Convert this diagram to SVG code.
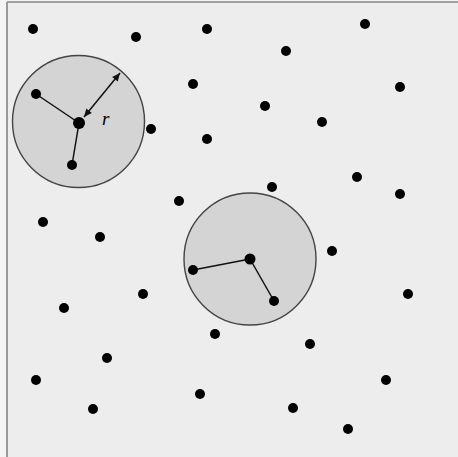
<svg xmlns="http://www.w3.org/2000/svg" width="458" height="457" viewBox="0 0 458 457">
<style>
.dot{fill:#000}
.disk{fill:#d4d4d4;stroke:#444;stroke-width:1.4}
.edge{stroke:#111;stroke-width:1.5;fill:none}
.lbl{font-family:"Liberation Serif",serif;font-style:italic;font-size:19px;fill:#000}
</style>
<defs>
<marker id="ah" viewBox="0 0 10 10" refX="10" refY="5" markerWidth="9" markerHeight="8" orient="auto-start-reverse" markerUnits="userSpaceOnUse">
<path d="M0,0.5 L10,5 L0,9.5 z" fill="#111"/>
</marker>
</defs>
<rect x="0" y="0" width="458" height="457" fill="#f4f4f4"/>
<rect x="7" y="2" width="451" height="455" fill="#ededed"/>
<line x1="7" y1="2" x2="458" y2="2" stroke="#a0a0a0" stroke-width="2"/>
<line x1="7" y1="2" x2="7" y2="457" stroke="#9a9a9a" stroke-width="2"/>
<g id="region1">
<circle class="disk" cx="78.5" cy="121.5" r="66"/>
</g>
<g id="region2">
<circle class="disk" cx="250" cy="259" r="66"/>
</g>
<g id="connectors">
<line class="edge" x1="79" y1="123" x2="36" y2="94"/>
<line class="edge" x1="79" y1="123" x2="72" y2="165"/>
<line class="edge" x1="250" y1="259" x2="193" y2="270"/>
<line class="edge" x1="250" y1="259" x2="274" y2="301"/>
<line class="edge" x1="84" y1="117" x2="120" y2="73" marker-start="url(#ah)" marker-end="url(#ah)"/>
</g>
<text class="lbl" x="102" y="125">r</text>
<g id="points">
<circle class="dot" cx="79" cy="123" r="6"/>
<circle class="dot" cx="36" cy="94" r="5"/>
<circle class="dot" cx="72" cy="165" r="5"/>
<circle class="dot" cx="250" cy="259" r="5.5"/>
<circle class="dot" cx="193" cy="270" r="5"/>
<circle class="dot" cx="274" cy="301" r="5"/>
<circle class="dot" cx="33" cy="29" r="5"/>
<circle class="dot" cx="136" cy="37" r="5"/>
<circle class="dot" cx="207" cy="29" r="5"/>
<circle class="dot" cx="286" cy="51" r="5"/>
<circle class="dot" cx="365" cy="24" r="5"/>
<circle class="dot" cx="193" cy="84" r="5"/>
<circle class="dot" cx="265" cy="106" r="5"/>
<circle class="dot" cx="400" cy="87" r="5"/>
<circle class="dot" cx="322" cy="122" r="5"/>
<circle class="dot" cx="151" cy="129" r="5"/>
<circle class="dot" cx="207" cy="139" r="5"/>
<circle class="dot" cx="357" cy="177" r="5"/>
<circle class="dot" cx="400" cy="194" r="5"/>
<circle class="dot" cx="272" cy="187" r="5"/>
<circle class="dot" cx="179" cy="201" r="5"/>
<circle class="dot" cx="43" cy="222" r="5"/>
<circle class="dot" cx="100" cy="237" r="5"/>
<circle class="dot" cx="332" cy="251" r="5"/>
<circle class="dot" cx="408" cy="294" r="5"/>
<circle class="dot" cx="143" cy="294" r="5"/>
<circle class="dot" cx="64" cy="308" r="5"/>
<circle class="dot" cx="215" cy="334" r="5"/>
<circle class="dot" cx="310" cy="344" r="5"/>
<circle class="dot" cx="107" cy="358" r="5"/>
<circle class="dot" cx="36" cy="380" r="5"/>
<circle class="dot" cx="386" cy="380" r="5"/>
<circle class="dot" cx="200" cy="394" r="5"/>
<circle class="dot" cx="293" cy="408" r="5"/>
<circle class="dot" cx="93" cy="409" r="5"/>
<circle class="dot" cx="348" cy="429" r="5"/>
</g>
</svg>
